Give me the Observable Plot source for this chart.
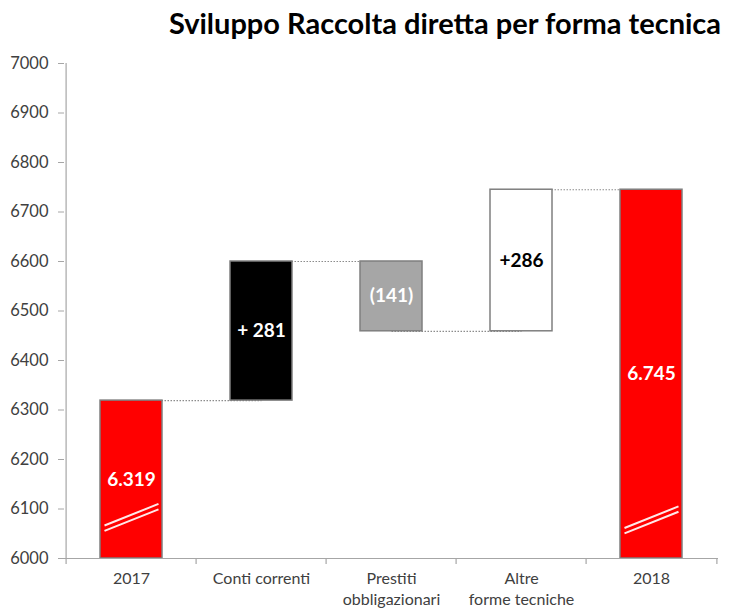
<!DOCTYPE html>
<html><head><meta charset="utf-8">
<script src="https://cdn.jsdelivr.net/npm/d3@7"></script>
<script src="https://cdn.jsdelivr.net/npm/@observablehq/plot@0.6"></script>
<style>
body{margin:0;background:#fff;font-family:Lato,"Open Sans",sans-serif;}
#title{height:47px;padding-top:8px;line-height:29px;font-size:29px;font-weight:bold;text-align:center;padding-left:155px;color:#000;white-space:nowrap;}
#chart svg{overflow:visible;}
</style></head><body>
<div id="title">Sviluppo Raccolta diretta per forma tecnica</div>
<div id="chart"></div>
<script>
// ---- data ----
const categories = ["2017", "Conti correnti", "Prestiti\nobbligazionari", "Altre\nforme tecniche", "2018"];
const values = [6319, 281, -141, 286, 6745];
const isTotal = [true, false, false, false, true];
const valueLabels = ["6.319", "+ 281", "(141)", "+286", "6.745"];
const yTicks = [6000, 6100, 6200, 6300, 6400, 6500, 6600, 6700, 6800, 6900, 7000];
const breakCategories = ["2017", "2018"];
const breakValues = [6083, 6078];
const baseValue = 6000;
const palette = ["#ff0000", "#000000", "#a6a6a6", "#ffffff", "#ff0000"];

// ---- derived rows ----
let running = 0;
const rows = categories.map((cat, i) => {
  let y1, y2;
  if (isTotal[i]) { y1 = baseValue; y2 = values[i]; running = values[i]; }
  else { y1 = running; y2 = running + values[i]; running = y2; }
  return {cat, y1, y2, end: running, label: valueLabels[i], labelFill: palette[i] === "#ffffff" ? "#000" : "#fff"};
});
const connectors = rows.slice(0, -1).map((r, i) => ({from: r.cat, to: rows[i + 1].cat, level: r.end}));
const breaks = breakCategories.map((cat, i) => ({cat, value: breakValues[i]}));

const W = 735, H = 554, mL = 64, mR = 17, mT = 8, mB = 51;
const step = (W - mL - mR) / categories.length;

const breakSymbol = {
  draw(ctx, size) {
    const r = Math.sqrt(size / Math.PI), s = 0.4, g = r * 0.1;
    for (const o of [-g, g]) { ctx.moveTo(-r, s * r + o); ctx.lineTo(r, -s * r + o); }
  }
};

const axisColor = "#a6a6a6";

const chart = Plot.plot({
  width: W, height: H,
  marginLeft: mL, marginRight: mR, marginTop: mT, marginBottom: mB,
  style: {fontFamily: "Lato, 'Open Sans', sans-serif", color: "#404040", background: "#fff"},
  x: {type: "band", domain: categories, padding: 0, axis: null},
  y: {domain: [6000, 7000], axis: null},
  color: {domain: categories, range: palette},
  marks: [
    Plot.link(connectors, {x1: "from", x2: "to", y1: "level", y2: "level", stroke: "#8c8c8c", strokeWidth: 1.2, strokeDasharray: "1.5,1.5"}),
    Plot.barY(rows, {x: "cat", y1: "y1", y2: "y2", fill: "cat", stroke: "#7f7f7f", strokeWidth: 1.5, insetLeft: 34, insetRight: 34}),
    Plot.dot(breaks, {x: "cat", y: "value", symbol: breakSymbol, r: 27, stroke: "#ffe8e8", strokeWidth: 2, fill: "none"}),
    Plot.text(rows, {x: "cat", y: d => (d.y1 + d.y2) / 2, text: "label", fill: "labelFill", fontSize: 19, fontWeight: "bold"}),
    Plot.ruleY([baseValue], {stroke: axisColor, strokeWidth: 1.2}),
    Plot.ruleX([categories[0]], {x: d => d, y1: 6000, y2: 7000, dx: -step / 2, stroke: axisColor, strokeWidth: 1.2}),
    Plot.ruleX(categories, {x: d => d, y1: baseValue, y2: baseValue - 12, dx: -step / 2, stroke: axisColor, strokeWidth: 1.2}),
    Plot.ruleX([categories[categories.length - 1]], {x: d => d, y1: baseValue, y2: baseValue - 12, dx: step / 2, stroke: axisColor, strokeWidth: 1.2}),
    Plot.axisY({ticks: yTicks, tickSize: 6, tickPadding: 10, tickFormat: d => String(d), fontSize: 16.5, label: null, stroke: axisColor, fill: "#404040"}),
    Plot.axisX({tickSize: 0, tickPadding: 11, fontSize: 16, lineHeight: 1.3, label: null, fill: "#404040"})
  ]
});
document.getElementById("chart").appendChild(chart);
</script>
</body></html>
